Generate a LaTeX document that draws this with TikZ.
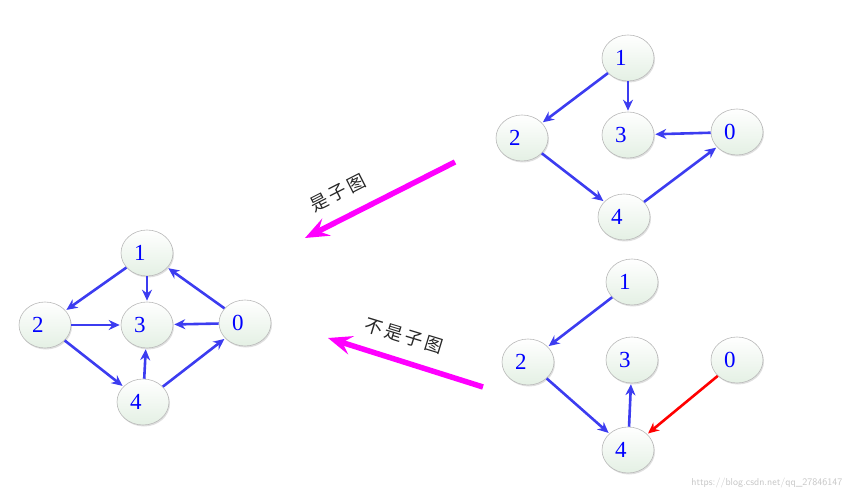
\documentclass[tikz,border=0pt]{standalone}
\usepackage{fontspec}
\setmainfont{Liberation Serif}
\newfontfamily\cjk{Noto Sans CJK SC}
\usetikzlibrary{shapes.geometric,arrows.meta,shadows}
\definecolor{eb}{RGB}{60,60,240}
\definecolor{nf}{RGB}{228,240,228}
\definecolor{mg}{RGB}{255,0,255}
\tikzset{
 v/.style={ellipse,draw=gray!55,line width=0.6pt,minimum width=52pt,minimum height=46pt,inner sep=0pt,
   top color=white,bottom color=nf,drop shadow={opacity=0.25,shadow xshift=1pt,shadow yshift=-1.5pt},
   font=\fontsize{23}{23}\selectfont,text=blue},
 e/.style={draw=eb,line width=2.6pt,-{Stealth[length=11pt,width=10pt]},shorten >=1pt},
 big/.style={draw=mg,line width=5.5pt,-{Stealth[length=24pt,width=19pt,inset=9pt]}},
 lab/.style={font=\cjk\fontsize{18}{18}\selectfont,text=black!85}
}
\newcommand{\dg}[1]{\makebox[26pt][l]{#1}}
\begin{document}
\begin{tikzpicture}[x=1pt,y=-1pt]
\useasboundingbox (0,0) rectangle (853,502);
% left
\node[v] (a1) at (147,253) {\dg{1}};
\node[v] (a2) at (45,325) {\dg{2}};
\node[v] (a3) at (147,325) {\dg{3}};
\node[v] (a0) at (245,323) {\dg{0}};
\node[v] (a4) at (143,402) {\dg{4}};
\draw[e] (a1) -- (a2);
\draw[e] (a1) -- (a3);
\draw[e] (a0) -- (a1);
\draw[e] (a2) -- (a3);
\draw[e] (a0) -- (a3);
\draw[e] (a2) -- (a4);
\draw[e] (a4) -- (a3);
\draw[e] (a4) -- (a0);
% top right
\node[v] (b1) at (628,58) {\dg{1}};
\node[v] (b2) at (522,138) {\dg{2}};
\node[v] (b3) at (628,135) {\dg{3}};
\node[v] (b0) at (737,132) {\dg{0}};
\node[v] (b4) at (624,217) {\dg{4}};
\draw[e] (b1) -- (b2);
\draw[e] (b1) -- (b3);
\draw[e] (b0) -- (b3);
\draw[e] (b2) -- (b4);
\draw[e] (b4) -- (b0);
% bottom right
\node[v] (c1) at (632,282) {\dg{1}};
\node[v] (c2) at (528,362) {\dg{2}};
\node[v] (c3) at (632,360) {\dg{3}};
\node[v] (c0) at (737,360) {\dg{0}};
\node[v] (c4) at (628,450) {\dg{4}};
\draw[e] (c1) -- (c2);
\draw[e] (c2) -- (c4);
\draw[e] (c4) -- (c3);
\draw[e,draw=red] (c0) -- (c4);
% big arrows
\coordinate (p1) at (455,162); \coordinate (q1) at (305,238);
\coordinate (p2) at (483,387); \coordinate (q2) at (328,338);
\draw[big] (p1) -- (q1);
\draw[big] (p2) -- (q2);
\node[lab,rotate=27] (t1) at (338,193) {是\,子\,图};
\node[lab,rotate=-17] (t2) at (404,336) {不\,是\,子\,图};
\node[font=\fontsize{10}{10}\selectfont\sffamily,text=gray!45,anchor=east] (w) at (846,483) {https://blog.csdn.net/qq\_27846147};
\end{tikzpicture}
\end{document}
